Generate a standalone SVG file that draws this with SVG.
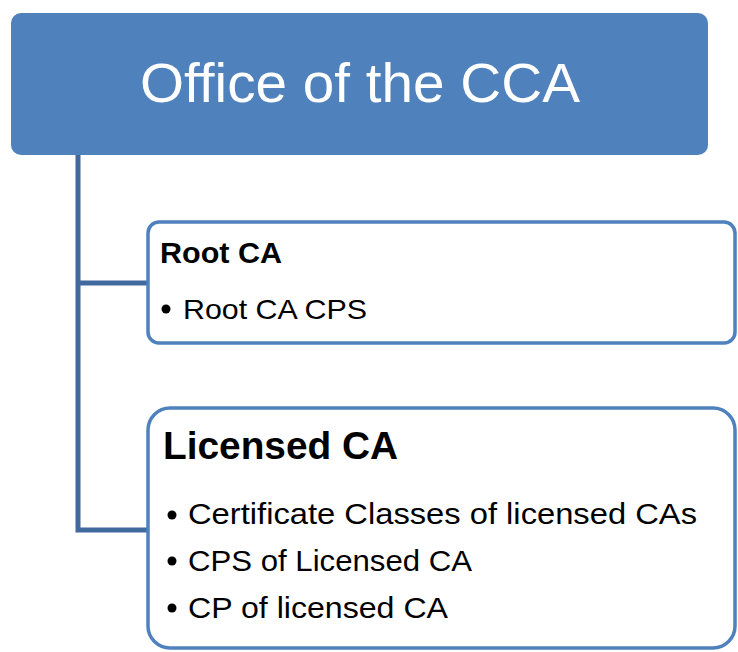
<svg xmlns="http://www.w3.org/2000/svg" width="738" height="652" viewBox="0 0 738 652">
<style>
.t{font-family:"Liberation Sans",Arial,sans-serif;fill:#000}
.b{font-weight:bold}
.box{fill:#fff;stroke:#4F81BD;stroke-width:3.5}
.conn{fill:none;stroke:#41699D;stroke-width:5}
</style>
<rect width="738" height="652" fill="#fff"/>
<g id="connectors">
<path class="conn" d="M78,155 V530 H149"/>
<path class="conn" d="M78,283 H149"/>
</g>
<g id="office">
<rect x="11" y="13" width="697" height="142" rx="10" fill="#4F81BD"/>
<text class="t" x="140" y="102" font-size="56" textLength="440" lengthAdjust="spacingAndGlyphs" style="fill:#fff">Office of the CCA</text>
</g>
<g id="root">
<rect class="box" x="148" y="222" width="587" height="121" rx="11"/>
<text class="t b" x="160" y="263" font-size="29" textLength="122" lengthAdjust="spacingAndGlyphs">Root CA</text>
<circle cx="166" cy="309" r="4.5"/>
<text class="t" x="183" y="319" font-size="28" textLength="184" lengthAdjust="spacingAndGlyphs">Root CA CPS</text>
</g>
<g id="licensed">
<rect class="box" x="148" y="408" width="587" height="240" rx="22"/>
<text class="t b" x="163" y="459" font-size="39" textLength="235" lengthAdjust="spacingAndGlyphs">Licensed CA</text>
<circle cx="172" cy="515" r="4.5"/>
<text class="t" x="188" y="524" font-size="29" textLength="509" lengthAdjust="spacingAndGlyphs">Certificate Classes of licensed CAs</text>
<circle cx="172" cy="561" r="4.5"/>
<text class="t" x="188" y="571" font-size="29" textLength="284" lengthAdjust="spacingAndGlyphs">CPS of Licensed CA</text>
<circle cx="172" cy="608" r="4.5"/>
<text class="t" x="188" y="618" font-size="29" textLength="260" lengthAdjust="spacingAndGlyphs">CP of licensed CA</text>
</g>
</svg>
